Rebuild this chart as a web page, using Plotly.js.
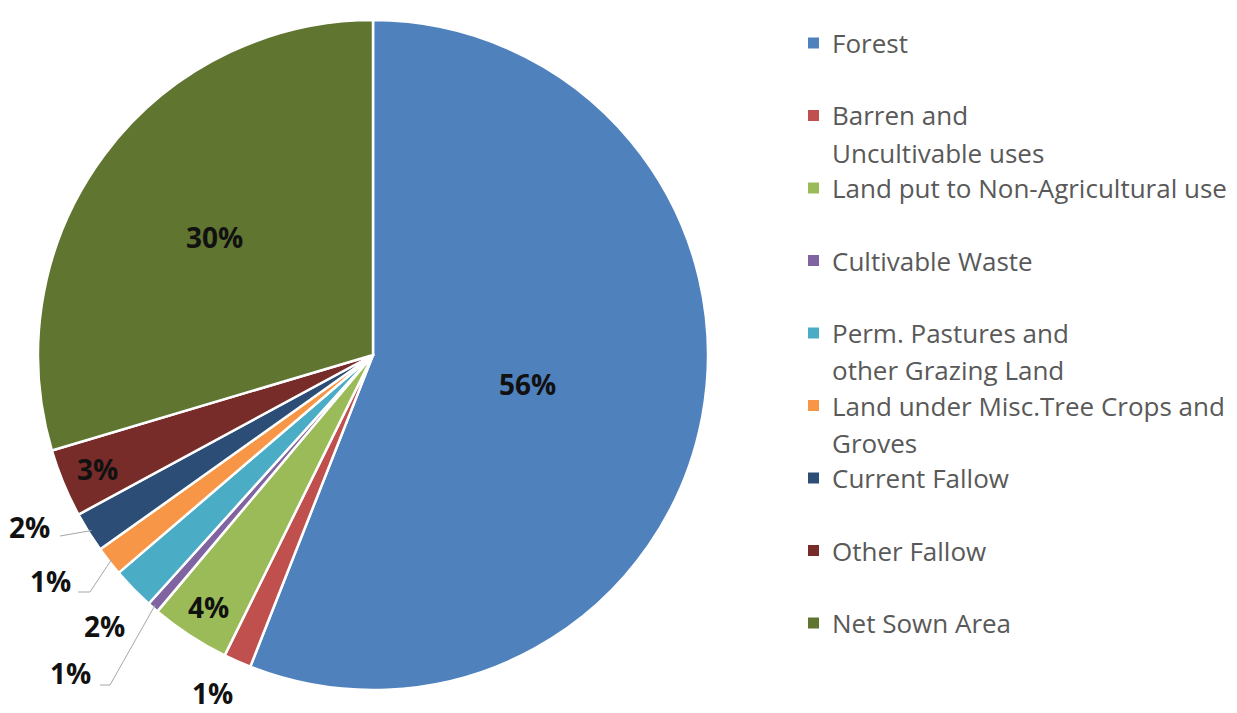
<!DOCTYPE html>
<html>
<head>
<meta charset="utf-8">
<script src="https://cdn.plot.ly/plotly-3.0.1.min.js"></script>
<style>html,body{margin:0;padding:0;background:#fff;}#chart{width:1237px;height:713px;}</style>
</head>
<body>
<div id="chart"></div>
<script>
// ---- data ----
const categories = [
  "Forest",
  "Barren and Uncultivable uses",
  "Land put to Non-Agricultural use",
  "Cultivable Waste",
  "Perm. Pastures and other Grazing Land",
  "Land under Misc.Tree Crops and Groves",
  "Current Fallow",
  "Other Fallow",
  "Net Sown Area"
];
const values = [55.97, 1.33, 3.83, 0.55, 2.05, 1.42, 1.95, 3.3, 29.6];
const legendLines = [
  ["Forest"],
  ["Barren and", "Uncultivable uses"],
  ["Land put to Non-Agricultural use"],
  ["Cultivable Waste"],
  ["Perm. Pastures and", "other Grazing Land"],
  ["Land under Misc.Tree Crops and", "Groves"],
  ["Current Fallow"],
  ["Other Fallow"],
  ["Net Sown Area"]
];
const colors = ["#4F81BD", "#C0504D", "#9BBB59", "#8064A2", "#4BACC6", "#F79646", "#2C4D75", "#772C2A", "#5F7530"];

// ---- layout / placement (pixels) ----
const W = 1237, H = 713;
const CX = 373, CY = 355, R = 335;
// label placement: inside labels at radius fraction f along mid-angle; outside labels at given px with optional leader
const placement = [
  {f: 0.47},
  {x: 213, y: 693},
  {f: 0.90},
  {x: 70, y: 673, lead: [[100, 685], [110, 685]]},
  {x: 104, y: 626},
  {x: 50, y: 581, lead: [[78, 592], [90, 592]]},
  {x: 30, y: 527, lead: [[60, 536]]},
  {f: 0.89},
  {f: 0.59}
];
const LEG_X = 808, LEG_Y0 = 43, LEG_STEP = 72.5, LEG_LINE = 37;

const px = x => x / W;
const py = y => 1 - y / H;

const total = values.reduce((a, b) => a + b, 0);
const annotations = [];
const shapes = [];
let cum = 0;
values.forEach((v, i) => {
  const mid = (cum + v / 2) / total * 2 * Math.PI;
  cum += v;
  const pct = Math.round(v / total * 100) + "%";
  const p = placement[i];
  let lx, ly;
  if (p.f !== undefined) {
    lx = CX + p.f * R * Math.sin(mid);
    ly = CY - p.f * R * Math.cos(mid);
  } else {
    lx = p.x; ly = p.y;
  }
  annotations.push({
    x: px(lx), y: py(ly), xref: "paper", yref: "paper",
    text: pct, showarrow: false, xanchor: "center", yanchor: "middle",
    borderpad: 0,
    font: {family: "'Open Sans', sans-serif", size: 28, color: "#111", weight: "bold"}
  });
  if (p.lead) {
    const ex = CX + R * 0.99 * Math.sin(mid);
    const ey = CY - R * 0.99 * Math.cos(mid);
    const pts = p.lead.concat([[ex, ey]]);
    for (let k = 0; k < pts.length - 1; k++) {
      shapes.push({type: "line", xref: "paper", yref: "paper",
        x0: px(pts[k][0]), y0: py(pts[k][1]), x1: px(pts[k + 1][0]), y1: py(pts[k + 1][1]),
        line: {color: "#a6a6a6", width: 1}});
    }
  }
});

// manual legend
legendLines.forEach((lines, i) => {
  const y = LEG_Y0 + i * LEG_STEP;
  shapes.push({type: "rect", xref: "paper", yref: "paper",
    x0: px(LEG_X), x1: px(LEG_X + 11), y0: py(y - 5.5), y1: py(y + 5.5),
    fillcolor: colors[i], line: {width: 0}});
  lines.forEach((t, k) => {
    annotations.push({
      x: px(LEG_X + 22), y: py(y + k * LEG_LINE), xref: "paper", yref: "paper",
      text: t, showarrow: false, xanchor: "left", yanchor: "middle",
      font: {family: "'Open Sans', sans-serif", size: 26, color: "#595959"}
    });
  });
});

const trace = {
  type: "pie",
  labels: categories,
  values: values,
  sort: false,
  direction: "clockwise",
  rotation: 0,
  textinfo: "none",
  hoverinfo: "label+percent",
  marker: {colors: colors, line: {color: "#ffffff", width: 2.5}},
  domain: {x: [px(CX - R), px(CX + R)], y: [py(CY + R), py(CY - R)]},
  showlegend: false
};

const layout = {
  width: W, height: H,
  margin: {l: 0, r: 0, t: 0, b: 0},
  paper_bgcolor: "#ffffff",
  showlegend: false,
  annotations: annotations,
  shapes: shapes
};

Plotly.newPlot("chart", [trace], layout, {displayModeBar: false, staticPlot: true});
</script>
</body>
</html>
